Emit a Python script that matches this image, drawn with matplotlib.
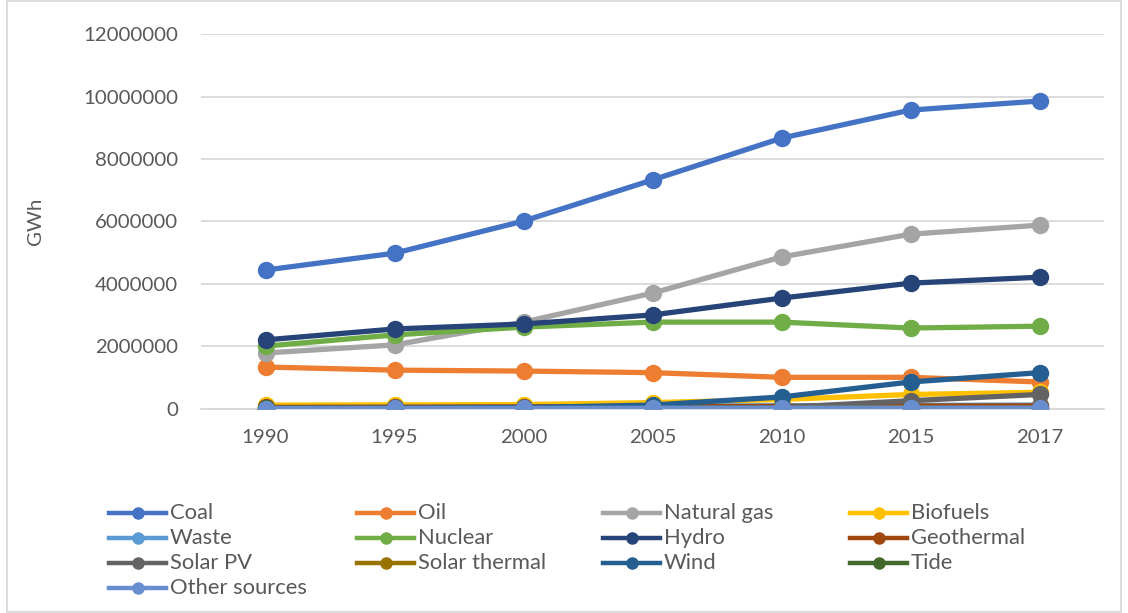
import matplotlib
matplotlib.use("Agg")
import matplotlib.pyplot as plt
from matplotlib.lines import Line2D
from matplotlib.patches import Rectangle

# World electricity generation by source (GWh)
years = ["1990", "1995", "2000", "2005", "2010", "2015", "2017"]

coal = [4440000, 4980000, 6010000, 7330000, 8670000, 9570000, 9860000]
oil = [1330000, 1230000, 1200000, 1150000, 1000000, 1000000, 850000]
natural_gas = [1780000, 2040000, 2770000, 3700000, 4860000, 5590000, 5880000]
biofuels = [110000, 115000, 125000, 190000, 290000, 450000, 520000]
waste = [25000, 40000, 50000, 70000, 90000, 100000, 110000]
nuclear = [2000000, 2360000, 2610000, 2770000, 2770000, 2580000, 2640000]
hydro = [2200000, 2550000, 2710000, 3000000, 3540000, 4020000, 4210000]
geothermal = [36000, 40000, 52000, 58000, 68000, 80000, 86000]
solar_pv = [100, 200, 1000, 4000, 32000, 250000, 450000]
solar_thermal = [700, 800, 500, 600, 1700, 9500, 11000]
wind = [4000, 8000, 31000, 110000, 370000, 850000, 1150000]
tide = [600, 600, 600, 600, 500, 1000, 1000]
other_sources = [0, 100, 4000, 8000, 9000, 10000, 11000]

series_names = ["Coal", "Oil", "Natural gas", "Biofuels", "Waste", "Nuclear",
                "Hydro", "Geothermal", "Solar PV", "Solar thermal", "Wind",
                "Tide", "Other sources"]
series_values = [coal, oil, natural_gas, biofuels, waste, nuclear, hydro,
                 geothermal, solar_pv, solar_thermal, wind, tide, other_sources]
series_colors = ["#4472C4", "#ED7D31", "#A5A5A5", "#FFC000", "#5B9BD5",
                 "#70AD47", "#264478", "#9E480E", "#636363", "#997300",
                 "#255E91", "#43682B", "#698ED0"]

y_ticks = [0, 2000000, 4000000, 6000000, 8000000, 10000000, 12000000]

plt.rcParams["font.family"] = ["Lato", "DejaVu Sans"]
text_color = "#595959"
grid_color = "#D9D9D9"
tick_size = 14.7
legend_size = 15.8

fig = plt.figure(figsize=(11.28, 6.13), dpi=100)
fig.patch.set_facecolor("white")
ax = fig.add_axes([201 / 1128, 1 - 408.5 / 613, (1104 - 201) / 1128, (408.5 - 34.3) / 613])

x = list(range(len(years)))
for name, vals, col in zip(series_names, series_values, series_colors):
    ax.plot(x, vals, color=col, lw=3.8, marker="o", markersize=11.5,
            markerfacecolor=col, markeredgecolor=col, solid_capstyle="round",
            zorder=3)

ax.set_xlim(-0.5, len(years) - 0.5)
ax.set_ylim(0, 12000000)
ax.set_yticks(y_ticks)
ax.set_yticklabels([str(v) for v in y_ticks])
ax.set_xticks(x)
ax.set_xticklabels(years)
ax.tick_params(axis="both", length=0, labelsize=tick_size, colors=text_color)
ax.tick_params(axis="y", pad=16.5)
ax.tick_params(axis="x", pad=15)
ax.yaxis.grid(True, color=grid_color, lw=1.3)
ax.set_axisbelow(True)
for side in ["top", "right", "left"]:
    ax.spines[side].set_visible(False)
ax.spines["bottom"].set_color(grid_color)
ax.spines["bottom"].set_linewidth(1.3)
ax.set_ylabel("GWh", fontsize=tick_size, color=text_color, labelpad=28)

# Legend laid out as an equal-width grid below the plot
col_x = [109, 357, 603, 850]
row_y = [513, 538, 563, 588]
handle_len = 57
for i, (name, col) in enumerate(zip(series_names, series_colors)):
    r, c = divmod(i, 4)
    x0 = col_x[c] / 1128
    x1 = (col_x[c] + handle_len) / 1128
    yy = 1 - row_y[r] / 613
    fig.add_artist(Line2D([x0, x1], [yy, yy], color=col, lw=3.2,
                          transform=fig.transFigure))
    fig.add_artist(Line2D([(x0 + x1) / 2], [yy], color=col, marker="o",
                          markersize=8, transform=fig.transFigure))
    fig.text(x1 + 4 / 1128, yy, name, fontsize=legend_size, color=text_color,
             va="center", ha="left")

# Chart area border
fig.add_artist(Rectangle((7 / 1128, 0.002), 1 - 14 / 1128, 0.996,
                         transform=fig.transFigure, fill=False,
                         edgecolor=grid_color, lw=1.3))

fig.savefig("out.png", dpi=100)
